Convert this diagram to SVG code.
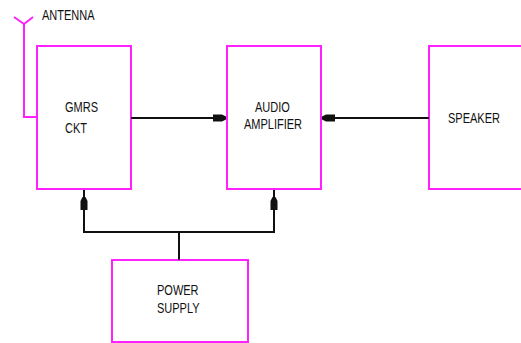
<svg xmlns="http://www.w3.org/2000/svg" width="521" height="343" viewBox="0 0 521 343">
<style>
.box{fill:#fff;stroke:#ff22ff;stroke-width:2}
.pink{fill:none;stroke:#ff22ff;stroke-width:2}
.wire{fill:none;stroke:#111;stroke-width:2}
.head{fill:#111}
text{font-family:"Liberation Sans",Arial,sans-serif;font-size:11px;fill:#111}
</style>
<rect width="521" height="343" fill="#fff"/>
<g id="antenna">
<path class="pink" d="M14,17 L24,24 L33,17 M24,24 L24,117 L37,117"/>
<text transform="translate(42,20) scale(1,1.25)">ANTENNA</text>
</g>
<g id="gmrs">
<rect class="box" x="37" y="46" width="94" height="143"/>
<text transform="translate(65,112) scale(1,1.25)">GMRS</text>
<text transform="translate(65,133) scale(1,1.25)">CKT</text>
</g>
<g id="amp">
<rect class="box" x="227" y="46" width="94" height="143"/>
<text transform="translate(255,112) scale(1,1.25)">AUDIO</text>
<text transform="translate(244,129) scale(1,1.25)">AMPLIFIER</text>
</g>
<g id="speaker">
<rect class="box" x="429" y="46" width="100" height="143"/>
<text transform="translate(448,123) scale(1,1.25)">SPEAKER</text>
</g>
<g id="power">
<rect class="box" x="112" y="260" width="136" height="82"/>
<text transform="translate(157,295) scale(1,1.25)">POWER</text>
<text transform="translate(157,313) scale(1,1.25)">SUPPLY</text>
</g>
<g id="connectors">
<path class="wire" d="M131,118 H226"/>
<path class="head" d="M213,114.5 H222 L226,116.5 V119.5 L222,121.5 H213 Z"/>
<path class="wire" d="M429,118 H322"/>
<path class="head" d="M335,114.5 H326 L322,116.5 V119.5 L326,121.5 H335 Z"/>
<path class="wire" d="M84,190 V232 H274 V190 M179,232 V260"/>
<path class="head" d="M80.5,210 V201 L82.5,197 H85.5 L87.5,201 V210 Z"/>
<path class="head" d="M270.5,210 V201 L272.5,197 H275.5 L277.5,201 V210 Z"/>
</g>
</svg>
